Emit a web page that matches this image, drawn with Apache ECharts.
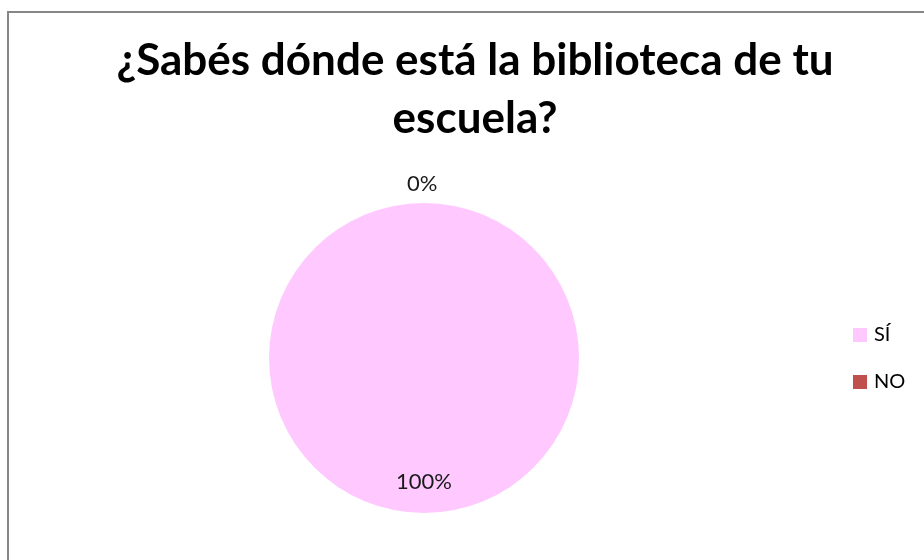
<!DOCTYPE html>
<html>
<head>
<meta charset="utf-8">
<script src="https://cdn.jsdelivr.net/npm/echarts@6/dist/echarts.min.js"></script>
<style>
  html, body { margin: 0; padding: 0; background: #fff; }
  #chart { width: 924px; height: 560px; }
</style>
</head>
<body>
<div id="chart"></div>
<script>
// Survey answers and their shares
const categories = ['SÍ', 'NO'];
const values = [100, 0];
const colors = ['#FFC9FF', '#C0504D'];

const chart = echarts.init(document.getElementById('chart'), null, { renderer: 'canvas' });

const pieData = categories.map((name, i) => ({
  name: name,
  value: values[i],
  itemStyle: { color: colors[i] },
  label: i === 0
    ? { position: 'inside', offset: [0, 43] }
    : { position: 'outside', offset: [-22, 0] }
}));

chart.setOption({
  backgroundColor: '#ffffff',
  animation: false,
  graphic: [{
    type: 'rect',
    shape: { x: 8, y: 12, width: 1000, height: 1000 },
    style: { fill: 'none', stroke: '#878787', lineWidth: 2 },
    silent: true
  }],
  title: {
    text: '¿Sabés dónde está la biblioteca de tu\nescuela?',
    left: 470,
    top: 27,
    textAlign: 'center',
    textStyle: {
      fontFamily: 'Lato',
      fontWeight: 'bold',
      fontSize: 44,
      lineHeight: 58,
      color: '#000'
    }
  },
  legend: {
    orient: 'vertical',
    left: 853,
    top: 325,
    padding: 0,
    itemWidth: 14,
    itemHeight: 14,
    itemGap: 27,
    icon: 'rect',
    data: categories,
    textStyle: { fontFamily: 'Lato', fontSize: 20, color: '#000', padding: [0, 0, 0, 2] }
  },
  series: [{
    type: 'pie',
    center: [424, 358],
    radius: 155,
    startAngle: 90,
    clockwise: true,
    avoidLabelOverlap: false,
    data: pieData,
    label: {
      show: true,
      formatter: '{d}%',
      fontFamily: 'Lato',
      fontSize: 22,
      color: '#1a1a1a'
    },
    labelLine: { show: false, length: 19, length2: 0 },
    emphasis: { disabled: true }
  }]
});
</script>
</body>
</html>
